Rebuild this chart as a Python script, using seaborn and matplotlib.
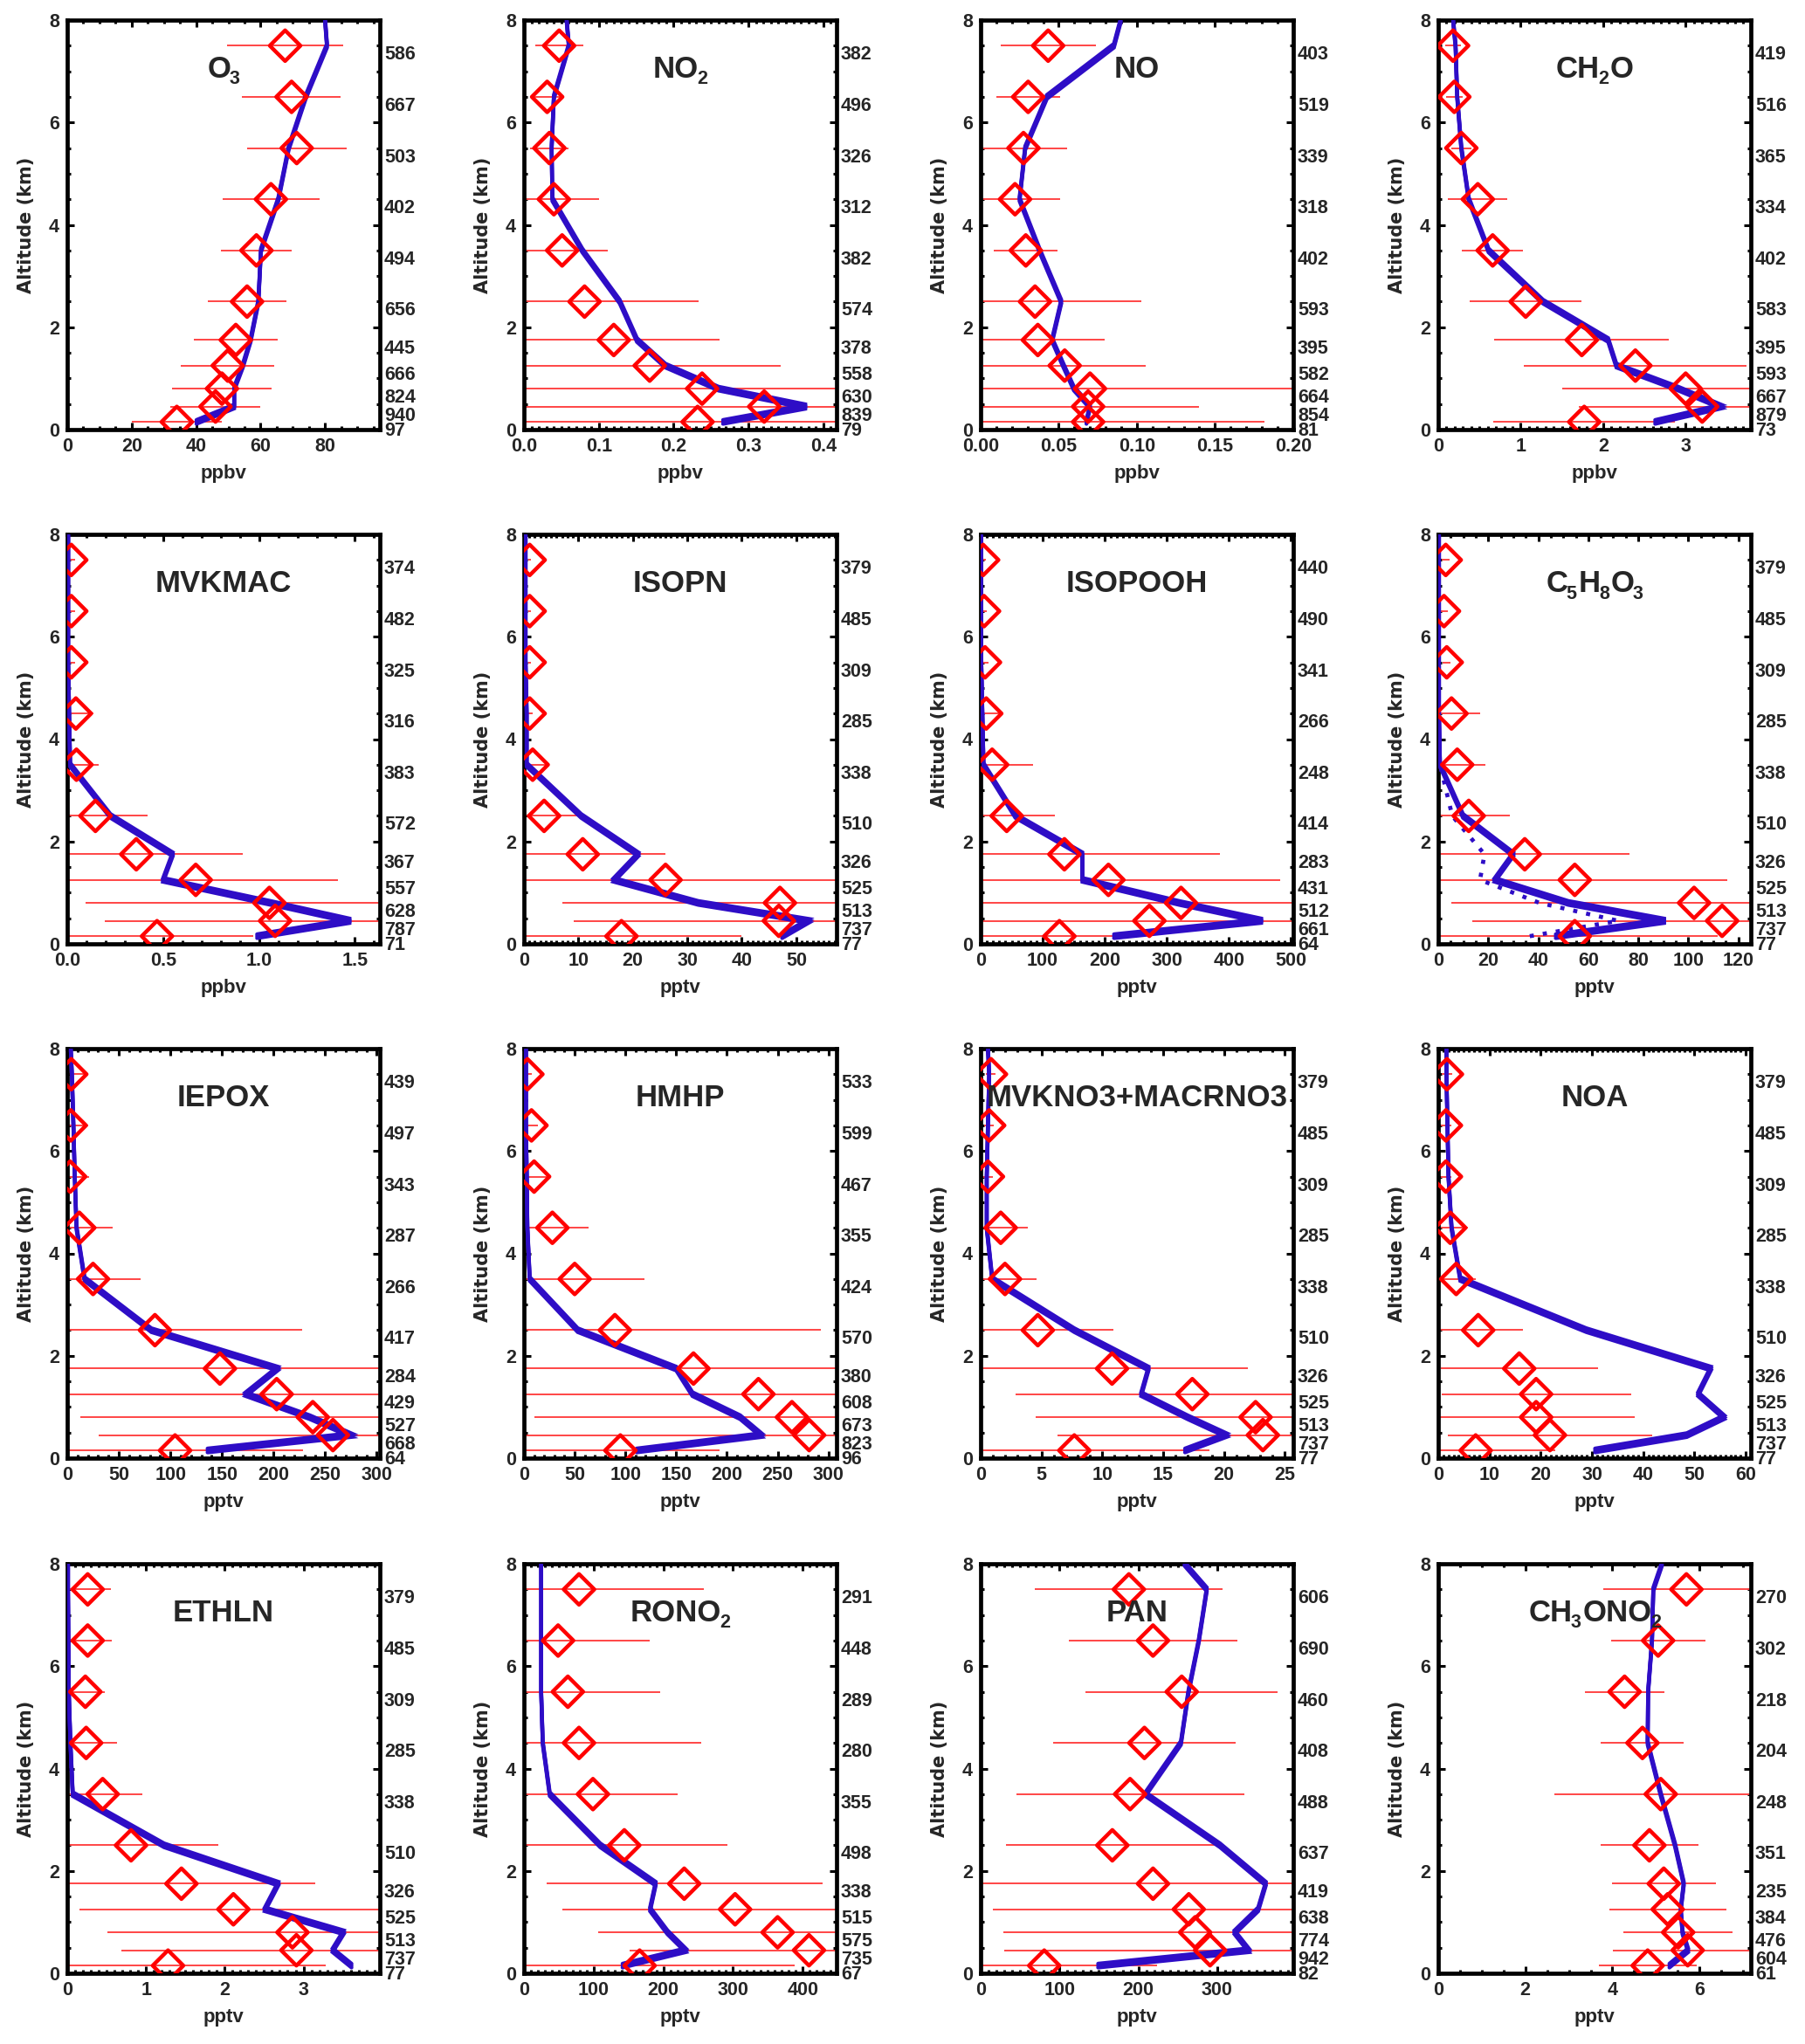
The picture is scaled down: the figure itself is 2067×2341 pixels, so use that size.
import matplotlib
matplotlib.use("Agg")
import matplotlib.pyplot as plt
import matplotlib.transforms as mtrans
from matplotlib.ticker import MultipleLocator, AutoMinorLocator, FormatStrFormatter
import seaborn as sns

# ---------------- data ----------------
levels = [0.15, 0.45, 0.8, 1.25, 1.75, 2.5, 3.5, 4.5, 5.5, 6.5, 7.5]
model_alt = [0.15, 0.45, 0.8, 1.25, 1.75, 2.5, 3.5, 4.5, 5.5, 6.5, 7.5, 8.0]

o3_obs = [34, 46, 48, 49.8, 52.3, 55.8, 58.7, 63.2, 71.2, 69.6, 67.6]
o3_err = [14, 14, 15.5, 14.5, 13, 12.2, 11, 15, 15.4, 15.3, 18]
o3_model = [40.1, 51.8, 51.8, 54.5, 56.9, 59.3, 60.1, 65.5, 68.7, 74, 80.6, 80]
o3_n = [97, 940, 824, 666, 445, 656, 494, 402, 503, 667, 586]

no2_obs = [0.232, 0.321, 0.238, 0.168, 0.120, 0.081, 0.051, 0.040, 0.034, 0.031, 0.047]
no2_err = [0.25, 0.35, 0.3, 0.175, 0.141, 0.152, 0.061, 0.06, 0.026, 0.022, 0.032]
no2_model = [0.266, 0.378, 0.260, 0.189, 0.151, 0.128, 0.078, 0.038, 0.037, 0.040, 0.060, 0.057]
no2_n = [79, 839, 630, 558, 378, 574, 382, 312, 326, 496, 382]

no_obs = [0.0688, 0.0688, 0.070, 0.0538, 0.0366, 0.0348, 0.0289, 0.022, 0.0274, 0.0304, 0.0432]
no_err = [0.113, 0.071, 0.16, 0.052, 0.043, 0.068, 0.0205, 0.029, 0.028, 0.0206, 0.0305]
no_model = [0.0677, 0.0700, 0.0597, 0.053, 0.0458, 0.0516, 0.0377, 0.0249, 0.0285, 0.0424, 0.0853, 0.0897]
no_n = [81, 854, 664, 582, 395, 593, 402, 318, 339, 519, 403]

ch2o_obs = [1.77, 3.2, 3.0, 2.39, 1.74, 1.06, 0.66, 0.48, 0.28, 0.195, 0.18]
ch2o_err = [1.1, 1.5, 1.5, 1.35, 1.06, 0.68, 0.37, 0.36, 0.12, 0.1, 0.1]
ch2o_model = [2.63, 3.43, 2.91, 2.16, 2.06, 1.27, 0.61, 0.37, 0.28, 0.23, 0.21, 0.18]
ch2o_n = [73, 879, 667, 593, 395, 583, 402, 334, 365, 516, 419]

mvkmac_obs = [0.468, 1.084, 1.054, 0.67, 0.36, 0.147, 0.048, 0.045, 0.021, 0.021, 0.021]
mvkmac_err = [0.5, 0.89, 0.96, 0.74, 0.556, 0.27, 0.117, 0.093, 0.02, 0.02, 0.02]
mvkmac_model = [0.99, 1.48, 1.06, 0.5, 0.55, 0.225, 0.015, 0.01, 0.005, 0.005, 0.005, 0.005]
mvkmac_n = [71, 787, 628, 557, 367, 572, 383, 316, 325, 482, 374]

isopn_obs = [17.9, 46.8, 47.0, 26.0, 10.8, 3.7, 1.6, 1.05, 1.05, 1.05, 1.05]
isopn_err = [22, 37.6, 40, 34, 15.2, 7, 3.1, 0.5, 0.3, 0.3, 0.3]
isopn_model = [47.4, 52.3, 32, 16.5, 21, 10.5, 0.5, 0.5, 0.3, 0.3, 0.3, 0.3]
isopn_n = [77, 737, 513, 525, 326, 510, 338, 285, 309, 485, 379]

isopooh_obs = [127, 272, 323, 206, 135, 42, 18.5, 9, 7, 5.5, 4]
isopooh_err = [130, 290, 340, 277, 251, 78, 66, 23, 5, 5, 5]
isopooh_model = [215, 455, 320, 164, 164, 56, 4.6, 2.8, 1, 1, 1, 1]
isopooh_n = [64, 661, 512, 431, 283, 414, 248, 266, 341, 490, 440]

c5h8o3_obs = [54.6, 113.5, 102.3, 54.6, 34.6, 12.2, 7.6, 5.3, 3.4, 2.3, 3]
c5h8o3_err = [57, 100, 97, 61, 42, 16.5, 11.4, 11.4, 1.5, 1.5, 1.5]
c5h8o3_model = [47, 91, 52, 22.6, 30, 9.9, 0.7, 0.3, 0.3, 0.3, 0.3, 0.3]
c5h8o3_model2 = [36.6, 72, 40.5, 16.7, 18.5, 5.6, 0.7]
c5h8o3_n = [77, 737, 513, 525, 326, 510, 338, 285, 309, 485, 379]

iepox_obs = [104.5, 257.5, 238, 203, 148, 85, 25, 11.7, 2.8, 3.4, 3.9]
iepox_err = [124, 227, 225, 230, 200, 143, 46, 32, 18, 17, 16]
iepox_model = [136, 275, 235, 173, 204, 81.5, 16.8, 9, 7.3, 6, 4.5, 3.4]
iepox_n = [64, 668, 527, 429, 284, 417, 266, 287, 343, 497, 439]

hmhp_obs = [95, 281, 264, 231, 167, 89.6, 50, 28, 10, 7.4, 3.4]
hmhp_err = [98, 300, 254, 250, 200, 203, 69, 36, 13, 6, 4]
hmhp_model = [111, 234, 213, 166, 150, 53, 5.7, 3.4, 2.8, 2, 2, 2]
hmhp_n = [96, 823, 673, 608, 380, 570, 424, 355, 467, 599, 533]

mvkno3_obs = [7.7, 23.2, 22.6, 17.4, 10.8, 4.7, 2.0, 1.65, 0.6, 0.7, 0.85]
mvkno3_err = [11.1, 16.9, 18.1, 14.5, 11.2, 6.2, 2.6, 2.25, 0.4, 0.4, 0.4]
mvkno3_model = [16.8, 20.2, 17.0, 13.2, 13.8, 7.7, 0.95, 0.5, 0.5, 0.6, 0.7, 0.6]
mvkno3_n = [77, 737, 513, 525, 326, 510, 338, 285, 309, 485, 379]

noa_obs = [7.3, 21.8, 19.1, 19.1, 15.8, 7.8, 3.5, 2.35, 1.5, 1.5, 1.7]
noa_err = [15.6, 20, 19.3, 18.5, 15.3, 8.8, 3.9, 3.4, 1, 1, 1]
noa_model = [30.6, 48.5, 55.8, 50.7, 53.2, 28.9, 4.3, 2.6, 2.0, 1.8, 1.6, 1.6]
noa_n = [77, 737, 513, 525, 326, 510, 338, 285, 309, 485, 379]

ethln_obs = [1.28, 2.91, 2.86, 2.11, 1.45, 0.81, 0.45, 0.24, 0.23, 0.26, 0.26]
ethln_err = [2.0, 2.22, 2.35, 1.96, 1.7, 1.11, 0.5, 0.39, 0.25, 0.31, 0.3]
ethln_model = [3.61, 3.37, 3.51, 2.51, 2.68, 1.23, 0.07, 0.04, 0.02, 0.015, 0.01, 0.01]
ethln_n = [77, 737, 513, 525, 326, 510, 338, 285, 309, 485, 379]

rono2_obs = [166, 409, 364, 303, 230, 144, 99, 79, 63, 49, 79]
rono2_err = [222, 257, 257, 248, 198, 148, 122, 176, 132, 132, 179]
rono2_model = [141.5, 232, 206, 181, 189, 109.5, 37, 27, 24.7, 24.7, 24.7, 24.7]
rono2_n = [67, 735, 575, 515, 338, 498, 355, 280, 289, 448, 291]

pan_obs = [80.6, 291, 272, 264, 218.6, 167, 189.5, 207.7, 255, 218.6, 188]
pan_err = [143, 261, 243, 249, 240, 135, 144.5, 116, 122, 107, 119]
pan_model = [149, 340, 322, 352, 361.7, 303.6, 209, 254, 263.6, 276.7, 286.8, 258.5]
pan_n = [82, 942, 774, 638, 419, 637, 488, 408, 460, 690, 606]

ch3ono2_obs = [4.81, 5.73, 5.51, 5.27, 5.18, 4.85, 5.11, 4.69, 4.28, 5.05, 5.7]
ch3ono2_err = [1.12, 1.71, 1.25, 1.34, 1.19, 1.12, 2.44, 0.95, 0.92, 1.08, 1.9]
ch3ono2_model = [5.31, 5.74, 5.61, 5.57, 5.64, 5.44, 5.11, 4.81, 4.82, 4.91, 4.94, 5.14]
ch3ono2_n = [61, 604, 476, 384, 235, 351, 248, 204, 218, 302, 270]

# panel titles as (text, is_subscript) pieces
titles = [
    [("O", 0), ("3", 1)], [("NO", 0), ("2", 1)], [("NO", 0)], [("CH", 0), ("2", 1), ("O", 0)],
    [("MVKMAC", 0)], [("ISOPN", 0)], [("ISOPOOH", 0)],
    [("C", 0), ("5", 1), ("H", 0), ("8", 1), ("O", 0), ("3", 1)],
    [("IEPOX", 0)], [("HMHP", 0)], [("MVKNO3+MACRNO3", 0)], [("NOA", 0)],
    [("ETHLN", 0)], [("RONO", 0), ("2", 1)], [("PAN", 0)],
    [("CH", 0), ("3", 1), ("ONO", 0), ("2", 1)],
]
units = ["ppbv"] * 5 + ["pptv"] * 11

obs_all = [o3_obs, no2_obs, no_obs, ch2o_obs, mvkmac_obs, isopn_obs, isopooh_obs, c5h8o3_obs,
           iepox_obs, hmhp_obs, mvkno3_obs, noa_obs, ethln_obs, rono2_obs, pan_obs, ch3ono2_obs]
err_all = [o3_err, no2_err, no_err, ch2o_err, mvkmac_err, isopn_err, isopooh_err, c5h8o3_err,
           iepox_err, hmhp_err, mvkno3_err, noa_err, ethln_err, rono2_err, pan_err, ch3ono2_err]
model_all = [o3_model, no2_model, no_model, ch2o_model, mvkmac_model, isopn_model, isopooh_model,
             c5h8o3_model, iepox_model, hmhp_model, mvkno3_model, noa_model, ethln_model,
             rono2_model, pan_model, ch3ono2_model]
n_all = [o3_n, no2_n, no_n, ch2o_n, mvkmac_n, isopn_n, isopooh_n, c5h8o3_n,
         iepox_n, hmhp_n, mvkno3_n, noa_n, ethln_n, rono2_n, pan_n, ch3ono2_n]

# axis scales (x upper limit, major step, minor subdivisions, label format)
xmax = [97, 0.4177, 0.2001, 3.79, 1.63, 57.4, 504, 125,
        303, 308, 25.7, 61, 3.97, 448.6, 396.5, 7.18]
major = [20, 0.1, 0.05, 1, 0.5, 10, 100, 20, 50, 50, 5, 10, 1, 100, 100, 2]
minor = [4, 10, 5, 10, 5, 10, 10, 4, 5, 5, 5, 10, 10, 10, 10, 4]
fmts = ["%d", "%.1f", "%.2f", "%d", "%.1f", "%d", "%d", "%d",
        "%d", "%d", "%d", "%d", "%d", "%d", "%d", "%d"]

# ---------------- style ----------------
sns.set_style("ticks")
plt.rcParams["font.family"] = ["Liberation Sans", "DejaVu Sans"]
plt.rcParams["font.weight"] = "bold"
plt.rcParams["axes.labelweight"] = "bold"

BLUE = "#2E0DC6"
RED = "#FF0000"
ERR_RED = "#FF4545"

W, H = 2067, 2341
DPI = 100
fig = plt.figure(figsize=(W / DPI, H / DPI), dpi=DPI)
fig.patch.set_facecolor("white")
renderer = fig.canvas.get_renderer()
lefts = [77, 600, 1123, 1647]
tops = [23, 612, 1201, 1791]
aw, ah = 358, 469
TITLE_FS, SUB_FS = 25, 15.5
SUB_DROP = 7.5      # px below baseline
GAP_BEFORE = -1.5   # px between main text and subscript
GAP_AFTER = 1.5     # px between subscript and following text


def draw_title(parts, cx, base_y):
    texts = []
    for s, sub in parts:
        t = fig.text(0, 0, s, fontsize=SUB_FS if sub else TITLE_FS, fontweight="bold",
                     ha="left", va="baseline", transform=mtrans.IdentityTransform(),
                     zorder=10)
        texts.append((t, sub))
    widths = [t.get_window_extent(renderer).width for t, _ in texts]
    gaps = []
    prev_sub = None
    for _, sub in texts:
        if prev_sub is None:
            gaps.append(0.0)
        elif sub:
            gaps.append(GAP_BEFORE)
        elif prev_sub:
            gaps.append(GAP_AFTER)
        else:
            gaps.append(0.0)
        prev_sub = sub
    total = sum(widths) + sum(gaps)
    x = cx - total / 2
    for (t, sub), w, g in zip(texts, widths, gaps):
        x += g
        t.set_position((x, base_y - (SUB_DROP if sub else 0)))
        x += w


for i in range(16):
    r, c = divmod(i, 4)
    ax = fig.add_axes([lefts[c] / W, 1 - (tops[r] + ah) / H, aw / W, ah / H])

    # observation spread (horizontal bars)
    ax.errorbar(obs_all[i], levels, xerr=err_all[i], fmt="none",
                ecolor=ERR_RED, elinewidth=1.4, capsize=0, zorder=2)

    # model profile (drawn with a small vertical brush to mimic the original stroke)
    for dy in (-2.2, 0.0, 2.2):
        sns.lineplot(x=model_all[i], y=model_alt, sort=False, estimator=None,
                     ax=ax, color=BLUE, lw=3.2, zorder=3)
        ln = ax.lines[-1]
        ln.set_transform(ax.transData +
                         mtrans.ScaledTranslation(0, dy / DPI, fig.dpi_scale_trans))
        ln.set_solid_joinstyle("miter")

    if i == 7:
        sns.lineplot(x=c5h8o3_model2, y=levels[:len(c5h8o3_model2)], sort=False,
                     estimator=None, ax=ax, color=BLUE, lw=3.4, zorder=3)
        ln = ax.lines[-1]
        ln.set_linestyle((0, (1, 2.2)))
        ln.set_dash_capstyle("butt")

    # observation means
    sns.scatterplot(x=obs_all[i], y=levels, marker="D", s=320, ax=ax, zorder=4)
    coll = ax.collections[-1]
    coll.set_facecolor("none")
    coll.set_edgecolor(RED)
    coll.set_linewidth(3.2)

    ax.set_xlim(0, xmax[i])
    ax.set_ylim(0, 8)
    ax.xaxis.set_major_locator(MultipleLocator(major[i]))
    ax.xaxis.set_minor_locator(AutoMinorLocator(minor[i]))
    ax.xaxis.set_major_formatter(FormatStrFormatter(fmts[i]))
    ax.yaxis.set_major_locator(MultipleLocator(2))
    ax.yaxis.set_minor_locator(MultipleLocator(0.5))
    ax.yaxis.set_major_formatter(FormatStrFormatter("%d"))
    ax.tick_params(which="both", direction="in", top=True, right=True,
                   width=2.2, color="black", labelsize=15.5, pad=6.5)
    ax.tick_params(which="major", length=5.8)
    ax.tick_params(which="minor", length=2.9)
    for lab in ax.get_xticklabels() + ax.get_yticklabels():
        lab.set_fontweight("bold")
    for sp in ax.spines.values():
        sp.set_visible(True)
        sp.set_linewidth(3.4)
        sp.set_color("black")
    ax.set_facecolor("white")

    ax.set_xlabel(units[i], fontsize=16, fontweight="bold")
    ax.xaxis.label.set_va("center")
    ax.xaxis.set_label_coords(0.5, -0.107)
    ax.set_ylabel("Altitude (km)", fontsize=15, fontweight="bold",
                  fontfamily=["DejaVu Sans"])
    ax.yaxis.label.set_va("center")
    ax.yaxis.set_label_coords(-0.131, 0.5)

    # title (pixel positions relative to the panel frame)
    draw_title(titles[i], lefts[c] + aw / 2, H - (tops[r] + 66))

    trans = mtrans.blended_transform_factory(ax.transAxes, ax.transData)
    for lv, n in zip(levels, n_all[i]):
        ax.text(1.014, lv - 0.18, str(n), transform=trans, ha="left", va="center",
                fontsize=15.5, fontweight="bold", clip_on=False)

fig.savefig("out.png", dpi=DPI, facecolor="white")
